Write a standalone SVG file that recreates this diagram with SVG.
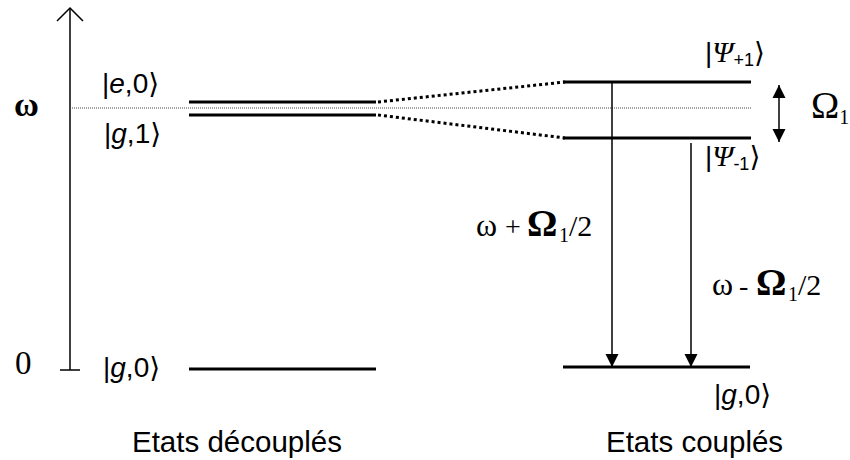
<svg xmlns="http://www.w3.org/2000/svg" width="850" height="460" viewBox="0 0 850 460">
<style>
.s{font-family:"Liberation Sans","DejaVu Sans",sans-serif;fill:#000}
.r{font-family:"Liberation Serif","DejaVu Serif",serif;fill:#000}
.k{font-size:28px}
.psi{font-family:"Liberation Serif","DejaVu Serif",serif;font-style:italic;font-size:30px}
.sub{font-size:18px}
.lv{stroke:#000;stroke-width:3;fill:none}
.ln{stroke:#000;stroke-width:1.5;fill:none}
.dt{stroke:#000;stroke-width:3;stroke-dasharray:3,3;fill:none}
</style>
<defs>
<marker id="ah" viewBox="0 0 10 10" refX="10" refY="5" markerUnits="userSpaceOnUse" markerWidth="13" markerHeight="14" orient="auto-start-reverse">
<path d="M0,0 L10,5 L0,10 z" fill="#000"/>
</marker>
</defs>
<rect width="850" height="460" fill="#fff"/>
<g id="axis">
<line class="ln" x1="70" y1="370" x2="70" y2="9"/>
<polyline class="ln" points="57,21 70,8 83,21"/>
<line class="ln" x1="60" y1="370" x2="80" y2="370"/>
<line x1="70" y1="108" x2="752" y2="108" stroke="#444" stroke-width="1" stroke-dasharray="1,1"/>
<text class="r" x="14" y="116" font-size="34" font-weight="bold">ω</text>
<text class="r" x="15" y="374" font-size="33">0</text>
</g>
<g id="e0">
<line class="lv" x1="189" y1="102" x2="376" y2="102"/>
<text class="s k" x="102" y="93">|<tspan font-style="italic">e</tspan>,0⟩</text>
</g>
<g id="g1">
<line class="lv" x1="189" y1="115" x2="376" y2="115"/>
<text class="s k" x="104" y="143">|<tspan font-style="italic">g</tspan>,1⟩</text>
</g>
<g id="g0-left">
<line class="lv" x1="189" y1="369" x2="376" y2="369"/>
<text class="s k" x="103" y="377">|<tspan font-style="italic">g</tspan>,0⟩</text>
</g>
<g id="psi-plus">
<line class="lv" x1="563" y1="82" x2="751" y2="82"/>
<text class="s k" x="705" y="62">|<tspan class="psi">Ψ</tspan><tspan class="sub" dy="4">+1</tspan><tspan dy="-4">⟩</tspan></text>
</g>
<g id="psi-minus">
<line class="lv" x1="563" y1="138" x2="751" y2="138"/>
<text class="s k" x="705" y="166">|<tspan class="psi">Ψ</tspan><tspan class="sub" dy="4">-1</tspan><tspan dy="-4">⟩</tspan></text>
</g>
<g id="g0-right">
<line class="lv" x1="563" y1="367" x2="750" y2="367"/>
<text class="s k" x="714" y="404">|<tspan font-style="italic">g</tspan>,0⟩</text>
</g>
<g id="omega1">
<text class="r" x="811" y="118" font-size="38">Ω<tspan font-size="20" dy="6">1</tspan></text>
</g>
<g id="captions">
<text class="s" x="132" y="452" font-size="29.5">Etats découplés</text>
<text class="s" x="606" y="452" font-size="29.5">Etats couplés</text>
</g>
<g id="connectors">
<line class="dt" x1="378" y1="102" x2="565" y2="82"/>
<line class="dt" x1="378" y1="115" x2="565" y2="138"/>
<line class="ln" x1="612" y1="82" x2="612" y2="367" marker-end="url(#ah)"/>
<line class="ln" x1="691" y1="143" x2="691" y2="367" marker-end="url(#ah)"/>
<line class="ln" x1="779" y1="85" x2="779" y2="142" marker-start="url(#ah)" marker-end="url(#ah)"/>
<text class="r" y="236" font-size="32"><tspan x="476">ω</tspan><tspan x="505" font-size="28">+</tspan><tspan x="527" font-size="38" font-weight="bold">Ω</tspan><tspan x="559" font-size="20" dy="6">1</tspan><tspan x="569" dy="-6" font-size="30">/2</tspan></text>
<text class="r" y="295" font-size="32"><tspan x="712">ω</tspan><tspan x="739" font-size="28">-</tspan><tspan x="756" font-size="38" font-weight="bold">Ω</tspan><tspan x="788" font-size="20" dy="6">1</tspan><tspan x="798" dy="-6" font-size="30">/2</tspan></text>
</g>
</svg>
